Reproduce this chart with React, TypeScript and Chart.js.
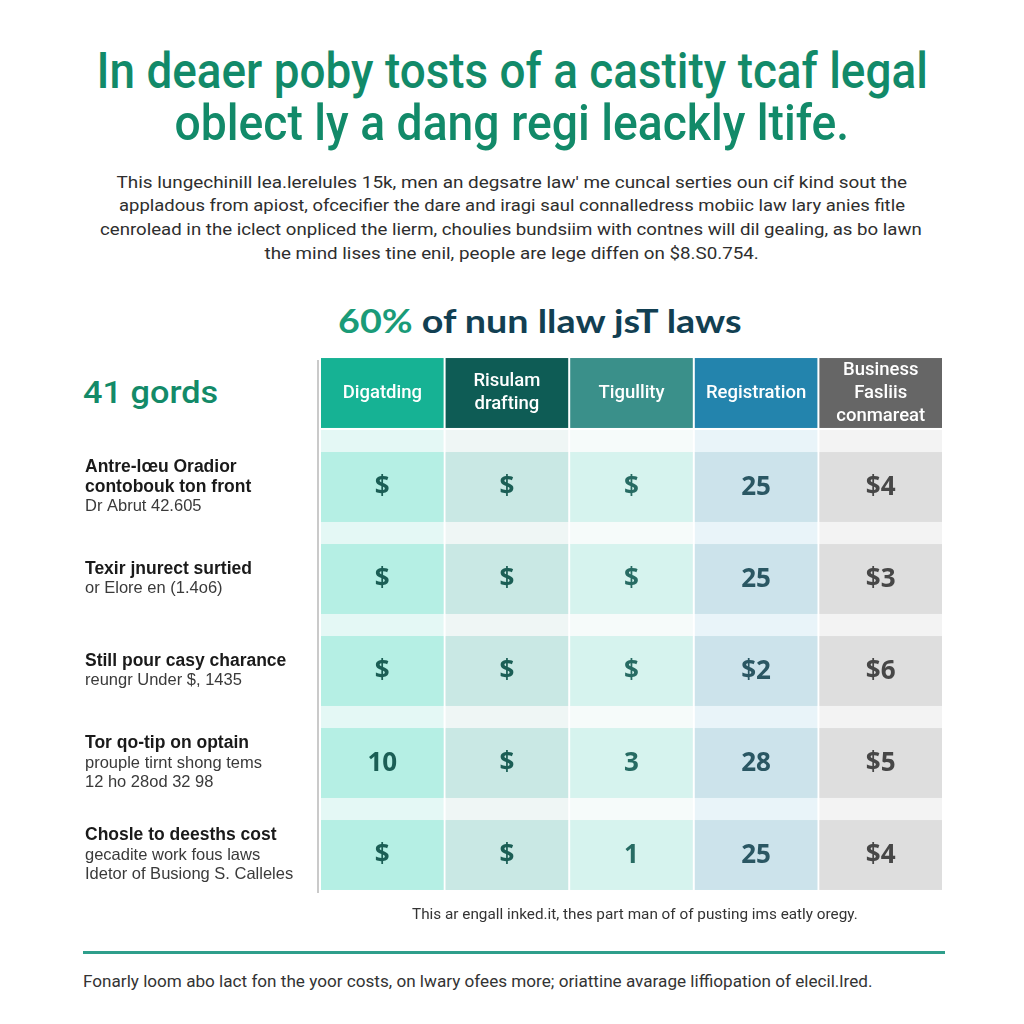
import React, { useEffect, useLayoutEffect, useRef } from "react";
import { Chart, registerables } from "chart.js";

Chart.register(...registerables);

// ---------- text content ----------
const titleLines = [
  "In deaer poby tosts of a castity tcaf legal",
  "oblect ly a dang regi leackly ltife.",
];
const introLines = [
  "This lungechinill lea.lerelules 15k, men an degsatre law' me cuncal serties oun cif kind sout the",
  "appladous from apiost, ofcecifier the dare and iragi saul connalledress mobiic law lary anies fitle",
  "cenrolead in the iclect onpliced the lierm, choulies bundsiim with contnes will dil gealing, as bo lawn",
  "the mind lises tine enil, people are lege diffen on $8.S0.754.",
];
const subtitleAccent = "60%";
const subtitleText = "of nun llaw jsT laws";
const sideHeading = "41 gords";
const footnote = "This ar engall inked.it, thes part man of of pusting ims eatly oregy.";
const bottomNote =
  "Fonarly loom abo lact fon the yoor costs, on lwary ofees more; oriattine avarage liffiopation of elecil.lred.";

// ---------- table data ----------
const columnHeaders: string[][] = [
  ["Digatding"],
  ["Risulam", "drafting"],
  ["Tigullity"],
  ["Registration"],
  ["Business", "Fasliis", "conmareat"],
];
const rowTitles: string[][] = [
  ["Antre-lœu Oradior", "contobouk ton front"],
  ["Texir jnurect surtied"],
  ["Still pour casy charance"],
  ["Tor qo-tip on optain"],
  ["Chosle to deesths cost"],
];
const rowNotes: string[][] = [
  ["Dr Abrut 42.605"],
  ["or Elore en (1.4o6)"],
  ["reungr Under $, 1435"],
  ["prouple tirnt shong tems", "12 ho 28od 32 98"],
  ["gecadite work fous laws", "Idetor of Busiong S. Calleles"],
];
const rowValues1 = ["$", "$", "$", "25", "$4"];
const rowValues2 = ["$", "$", "$", "25", "$3"];
const rowValues3 = ["$", "$", "$", "$2", "$6"];
const rowValues4 = ["10", "$", "3", "28", "$5"];
const rowValues5 = ["$", "$", "1", "25", "$4"];
const tableRows = [rowValues1, rowValues2, rowValues3, rowValues4, rowValues5];

// ---------- styles ----------
const headerColors = ["#16b294", "#0e5c55", "#3a908a", "#2384ad", "#666666"];
const cellColors = ["#b5efe4", "#c9e8e4", "#d6f3ee", "#cce3eb", "#dedede"];
const bandColors = ["#e4f8f5", "#eff6f5", "#f6fbfa", "#e9f4f9", "#f3f3f3"];
const valueColors = ["#1b5e55", "#1b5e55", "#276b63", "#2a5763", "#474747"];

type FitProps = {
  cy: number;
  cx?: number;
  left?: number;
  width?: number;
  size: number;
  weight?: number;
  family: string;
  color: string;
  children: React.ReactNode;
};

function FitLine({ cy, cx, left, width, size, weight = 400, family, color, children }: FitProps) {
  const ref = useRef<HTMLSpanElement>(null);
  useLayoutEffect(() => {
    const el = ref.current;
    if (!el) return;
    el.style.transform = "none";
    const w = el.offsetWidth;
    const k = width ? width / w : 1;
    el.style.transform = `scaleX(${k})`;
  }, [width]);
  const lh = Math.round(size * 1.25);
  const centered = cx !== undefined;
  const boxStyle: React.CSSProperties = centered
    ? { position: "absolute", left: cx! - 512, width: 1024, top: cy - lh / 2, height: lh, textAlign: "center" }
    : { position: "absolute", left: left, top: cy - lh / 2, height: lh, whiteSpace: "nowrap" };
  return (
    <div style={boxStyle}>
      <span
        ref={ref}
        style={{
          display: "inline-block",
          whiteSpace: "nowrap",
          fontFamily: family,
          fontSize: size,
          fontWeight: weight,
          lineHeight: `${lh}px`,
          color,
          transformOrigin: centered ? "center center" : "left center",
        }}
      >
        {children}
      </span>
    </div>
  );
}

const tablePlugin = {
  id: "tableCells",
  beforeDatasetsDraw(chart: any) {
    const { ctx, scales, chartArea } = chart;
    const x = scales.x;
    const y = scales.y;
    const colHalf = (x.getPixelForValue(1) - x.getPixelForValue(0)) / 2;
    const rowPitch = y.getPixelForValue(1) - y.getPixelForValue(0);
    const cellHalf = rowPitch * 0.38;
    ctx.save();

    // vertical rule left of the table
    ctx.strokeStyle = "#b9b9b9";
    ctx.lineWidth = 1.5;
    ctx.beginPath();
    ctx.moveTo(chartArea.left - 2, y.getPixelForValue(0) - cellHalf);
    ctx.lineTo(chartArea.left - 2, y.getPixelForValue(tableRows.length) + cellHalf + 3);
    ctx.stroke();

    for (let c = 0; c < columnHeaders.length; c++) {
      const cxp = x.getPixelForValue(c);
      const left = cxp - colHalf + 1;
      const w = colHalf * 2 - 2;
      // pale column band
      const hy = y.getPixelForValue(0) - 2;
      const bandTop = hy + cellHalf + 2;
      const bandBottom = y.getPixelForValue(tableRows.length) + cellHalf;
      ctx.fillStyle = bandColors[c];
      ctx.fillRect(left, bandTop, w, bandBottom - bandTop);
      // header cell
      ctx.fillStyle = headerColors[c];
      ctx.fillRect(left, hy - cellHalf, w, cellHalf * 2);
      ctx.fillStyle = "#ffffff";
      ctx.font = "500 18.5px Roboto";
      ctx.textAlign = "center";
      ctx.textBaseline = "middle";
      const lines = columnHeaders[c];
      const lineGap = 23;
      lines.forEach((t, i) => {
        ctx.fillText(t, cxp, hy + (i - (lines.length - 1) / 2) * lineGap);
      });
      // data cells
      tableRows.forEach((vals, r) => {
        const ry = y.getPixelForValue(r + 1);
        ctx.fillStyle = cellColors[c];
        ctx.fillRect(left, ry - cellHalf, w, cellHalf * 2);
        ctx.fillStyle = valueColors[c];
        ctx.font = "700 26px 'Open Sans'";
        ctx.textAlign = "center";
        ctx.textBaseline = "middle";
        ctx.fillText(vals[c], cxp, ry + 1);
      });
    }

    // row labels
    const labelX = chartArea.left - 235;
    ctx.textAlign = "left";
    ctx.textBaseline = "middle";
    tableRows.forEach((_, r) => {
      const ry = y.getPixelForValue(r + 1);
      const items: { t: string; bold: boolean }[] = [
        ...rowTitles[r].map((t) => ({ t, bold: true })),
        ...rowNotes[r].map((t) => ({ t, bold: false })),
      ];
      const gap = 19.5;
      items.forEach((it, i) => {
        const ly = ry + (i - (items.length - 1) / 2) * gap;
        if (it.bold) {
          ctx.font = "bold 17.5px 'Liberation Sans'";
          ctx.fillStyle = "#1a1a1a";
        } else {
          ctx.font = "16.5px 'Liberation Sans'";
          ctx.fillStyle = "#3a3a3a";
        }
        ctx.fillText(it.t, labelX, ly);
      });
    });
    ctx.restore();
  },
};

function TableChart() {
  const canvasRef = useRef<HTMLCanvasElement>(null);
  useEffect(() => {
    if (!canvasRef.current) return;
    const points = tableRows.flatMap((vals, r) => vals.map((_, c) => ({ x: c, y: r + 1 })));
    const chart = new Chart(canvasRef.current, {
      type: "scatter",
      data: {
        datasets: [
          {
            label: "cells",
            data: points,
            pointRadius: 0,
            pointHoverRadius: 0,
          },
        ],
      },
      options: {
        animation: false,
        responsive: false,
        events: [],
        layout: { padding: { left: 260, right: 17, top: 9, bottom: 9 } },
        plugins: { legend: { display: false }, tooltip: { enabled: false }, title: { display: false } },
        scales: {
          x: { type: "linear", min: -0.5, max: columnHeaders.length - 0.5, display: false },
          y: { type: "linear", min: -0.5, max: tableRows.length + 0.5, reverse: true, display: false },
        },
      },
      plugins: [tablePlugin],
    });
    return () => chart.destroy();
  }, []);
  return (
    <div style={{ position: "absolute", left: 60, top: 340, width: 900, height: 570 }}>
      <canvas ref={canvasRef} width={900} height={570} />
    </div>
  );
}

export default function App() {
  return (
    <div
      style={{
        position: "fixed",
        left: 0,
        top: 0,
        width: 1024,
        height: 1024,
        background: "#ffffff",
        overflow: "hidden",
      }}
    >
      <FitLine cx={512} cy={71} width={831} size={50} weight={500} family="Roboto" color="#128a69">
        {titleLines[0]}
      </FitLine>
      <FitLine cx={512} cy={123} width={675} size={50} weight={500} family="Roboto" color="#128a69">
        {titleLines[1]}
      </FitLine>
      <FitLine cx={512} cy={182} width={791} size={17} family="Roboto" color="#2e2e2e">
        {introLines[0]}
      </FitLine>
      <FitLine cx={512} cy={205} width={786} size={17} family="Roboto" color="#2e2e2e">
        {introLines[1]}
      </FitLine>
      <FitLine cx={511} cy={229} width={822} size={17} family="Roboto" color="#2e2e2e">
        {introLines[2]}
      </FitLine>
      <FitLine cx={512} cy={253} width={494} size={17} family="Roboto" color="#2e2e2e">
        {introLines[3]}
      </FitLine>
      <FitLine cx={540} cy={320} width={404} size={33} weight={700} family="Lato" color="#123f52">
        <span style={{ color: "#1a9b78" }}>{subtitleAccent}</span> {subtitleText}
      </FitLine>
      <FitLine left={83} cy={392} width={135} size={32} weight={500} family="Roboto" color="#138a68">
        {sideHeading}
      </FitLine>
      <TableChart />
      <FitLine left={412} cy={914} width={446} size={14} family="Roboto" color="#333333">
        {footnote}
      </FitLine>
      <div style={{ position: "absolute", left: 83, top: 951, width: 862, height: 3, background: "#2e9e8b" }} />
      <FitLine left={83} cy={982} width={789} size={16} family="Roboto" color="#333333">
        {bottomNote}
      </FitLine>
    </div>
  );
}
